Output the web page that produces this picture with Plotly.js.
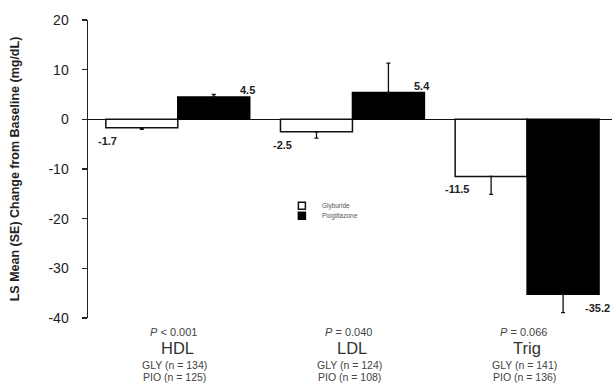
<!DOCTYPE html>
<html>
<head>
<meta charset="utf-8">
<script src="https://cdn.plot.ly/plotly-3.0.1.min.js"></script>
<style>html,body{margin:0;padding:0;background:#fff;}#chart{width:612px;height:386px;}</style>
</head>
<body>
<div id="chart"></div>
<script>
// ---- data ----
const categories = ['HDL', 'LDL', 'Trig'];
const glyburide = [-1.7, -2.5, -11.5];
const pioglitazone = [4.5, 5.4, -35.2];
const glyburideSE = [0.3, 1.3, 3.6];
const pioglitazoneSE = [0.5, 5.9, 3.7];
const pValues = ['<i>P</i> < 0.001', '<i>P</i> = 0.040', '<i>P</i> = 0.066'];
const glyN = [134, 124, 141];
const pioN = [125, 108, 136];
const yTicks = [20, 10, 0, -10, -20, -30, -40];

const FONT = 'Liberation Sans, Arial, sans-serif';
const BARGAP = 0.176;
const half = (1 - BARGAP) / 2;

function errUp(vals, se) { return vals.map((v, i) => v >= 0 ? se[i] : 0); }
function errDown(vals, se) { return vals.map((v, i) => v < 0 ? se[i] : 0); }

const traces = [
  {
    type: 'bar', name: 'Glyburide', x: categories, y: glyburide, showlegend: false,
    marker: {color: '#ffffff', line: {color: '#111', width: 1.5}},
    error_y: {type: 'data', symmetric: false, array: errUp(glyburide, glyburideSE),
      arrayminus: errDown(glyburide, glyburideSE), color: '#111', thickness: 1.3, width: 2}
  },
  {
    type: 'bar', name: 'Pioglitazone', x: categories, y: pioglitazone, showlegend: false,
    marker: {color: '#000000', line: {color: '#000', width: 1.5}},
    error_y: {type: 'data', symmetric: false, array: errUp(pioglitazone, pioglitazoneSE),
      arrayminus: errDown(pioglitazone, pioglitazoneSE), color: '#111', thickness: 1.3, width: 2}
  },
  {
    type: 'scatter', mode: 'markers', name: 'Glyburide', x: [null], y: [null], legend: 'legend',
    marker: {symbol: 'square', size: 7, color: '#fff', line: {color: '#111', width: 1.5}}
  },
  {
    type: 'scatter', mode: 'markers', name: 'Pioglitazone', x: [null], y: [null], legend: 'legend2',
    marker: {symbol: 'square', size: 7, color: '#000', line: {color: '#000', width: 1.5}}
  }
];

const annotations = [];
categories.forEach((c, i) => {
  // value labels
  const g = glyburide[i];
  annotations.push({x: i - half, y: g, xref: 'x', yref: 'y', text: '<b>' + g.toFixed(1) + '</b>',
    showarrow: false, xshift: 2, yshift: g < 0 ? -13 : 7, font: {family: FONT, size: 11, color: '#222'}});
  const p = pioglitazone[i];
  annotations.push({x: i + half, y: p, xref: 'x', yref: 'y', text: '<b>' + p.toFixed(1) + '</b>',
    showarrow: false, xshift: -2, yshift: p < 0 ? -14 : 7, font: {family: FONT, size: 11, color: '#222'}});
  // category labels below plot
  annotations.push({x: i, y: 0, xref: 'x', yref: 'paper', yanchor: 'middle', text: pValues[i],
    showarrow: false, yshift: -14, xshift: -4, font: {family: FONT, size: 11, color: '#444'}});
  annotations.push({x: i, y: 0, xref: 'x', yref: 'paper', yanchor: 'middle', text: c,
    showarrow: false, yshift: -30, font: {family: FONT, size: 16.5, color: '#333'}});
  annotations.push({x: i, y: 0, xref: 'x', yref: 'paper', yanchor: 'middle', text: 'GLY (n = ' + glyN[i] + ')',
    showarrow: false, yshift: -47, xshift: -3, font: {family: FONT, size: 10.5, color: '#444'}});
  annotations.push({x: i, y: 0, xref: 'x', yref: 'paper', yanchor: 'middle', text: 'PIO (n = ' + pioN[i] + ')',
    showarrow: false, yshift: -59, xshift: -3, font: {family: FONT, size: 10.5, color: '#444'}});
});

const legendStyle = {
  xanchor: 'left', yanchor: 'middle', bgcolor: 'rgba(0,0,0,0)', borderwidth: 0,
  font: {family: FONT, size: 6.5, color: '#555'}, itemclick: false
};

const layout = {
  width: 612, height: 386,
  margin: {l: 88, r: 0, t: 20, b: 68},
  paper_bgcolor: '#fff', plot_bgcolor: '#fff',
  font: {family: FONT},
  barmode: 'group', bargap: BARGAP, bargroupgap: 0,
  xaxis: {type: 'category', range: [-0.514, 2.486], showticklabels: false, showline: false,
    showgrid: false, zeroline: false, ticks: ''},
  yaxis: {range: [-40, 20], tickvals: yTicks, ticktext: yTicks.map(String),
    showline: true, linecolor: '#222', linewidth: 1.5, ticks: 'outside', ticklen: 5, tickwidth: 1.5,
    tickcolor: '#222', ticklabelstandoff: 10, showgrid: false,
    zeroline: true, zerolinecolor: '#111', zerolinewidth: 1.5,
    tickfont: {family: FONT, size: 14, color: '#222'},
    title: {text: '<b>LS Mean (SE) Change from Baseline (mg/dL)</b>', standoff: 26,
      font: {family: FONT, size: 12.5, color: '#222'}}},
  legend: Object.assign({x: 0.37, y: 0.377}, legendStyle),
  legend2: Object.assign({x: 0.37, y: 0.343}, legendStyle),
  annotations: annotations,
  showlegend: true
};

Plotly.newPlot('chart', traces, layout, {displayModeBar: false, staticPlot: true});
</script>
</body>
</html>
